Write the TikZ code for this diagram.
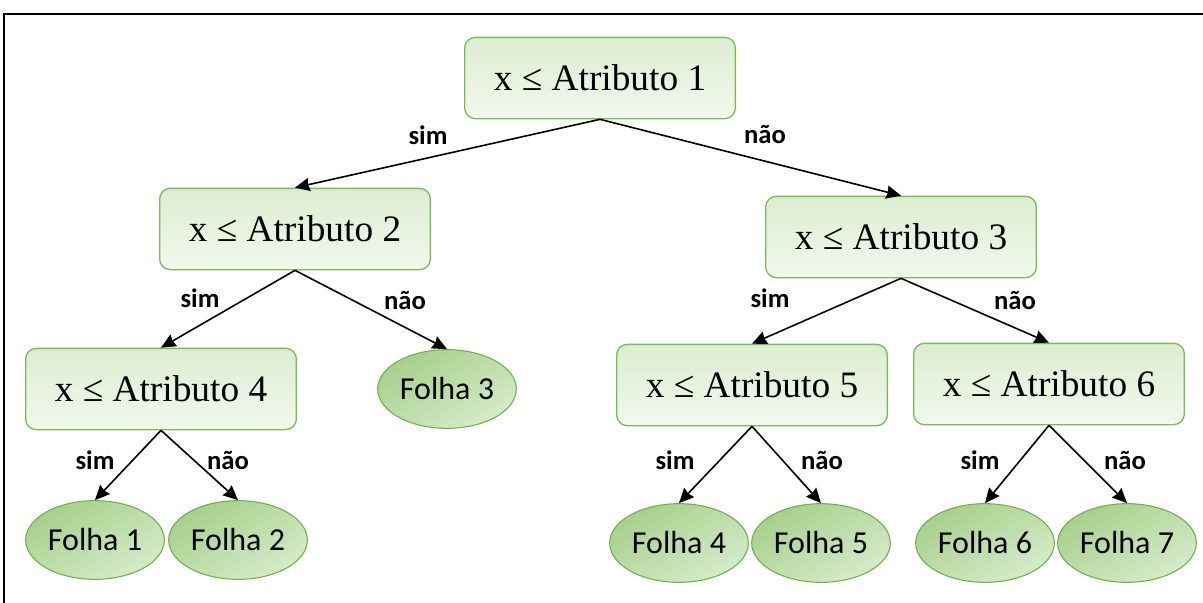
\documentclass[tikz,border=0pt]{standalone}
\usepackage{fontspec}
\setmainfont{Liberation Serif}
\newfontfamily\folhafont{Carlito}
\usetikzlibrary{arrows.meta,shapes.geometric}

\definecolor{boxline}{HTML}{7CBC58}
\definecolor{boxtop}{HTML}{DCEDD0}
\definecolor{boxbot}{HTML}{F2F8EE}
\definecolor{leafline}{HTML}{6FB04C}
\definecolor{leafdark}{HTML}{A6D08A}
\definecolor{leaflight}{HTML}{D6EBCA}

\begin{document}
\begin{tikzpicture}[x=0.75pt,y=-0.75pt,
    every node/.append style={align=center},
    teste/.style={draw=boxline, line width=1pt, rounded corners=8pt,
      top color=boxtop, bottom color=boxbot,
      minimum width=203pt, minimum height=61pt,
      font=\fontsize{28}{31}\selectfont},
    folha/.style={ellipse, draw=leafline, line width=0.8pt,
      top color=leafdark, bottom color=leaflight, shading angle=30,
      minimum width=104pt, minimum height=59pt, inner sep=0pt,
      font=\folhafont\fontsize{24}{26}\selectfont},
    lbl/.style={font=\folhafont\bfseries\fontsize{20}{22}\selectfont, inner sep=1pt},
    ramo/.style={line width=1.2pt, -{Stealth[length=11pt,width=10pt,inset=1pt]}}]
    \useasboundingbox (0,0) rectangle (1203,603);
    \draw[line width=1.5pt] (3.5,603) -- (3.5,14) -- (1203,14);

    % nos de decisao
    \node[teste] (a1) at ( 600,78)  {x ≤ Atributo 1};
    \node[teste] (a2) at ( 295,229) {x ≤ Atributo 2};
    \node[teste] (a3) at ( 901,237) {x ≤ Atributo 3};
    \node[teste] (a4) at ( 161,389) {x ≤ Atributo 4};
    \node[teste] (a5) at ( 752,385) {x ≤ Atributo 5};
    \node[teste] (a6) at (1049,384) {x ≤ Atributo 6};

    % folhas
    \node[folha] (f1) at (  95,540) {Folha 1};
    \node[folha] (f2) at ( 238,540) {Folha 2};
    \node[folha] (f3) at ( 447,389) {Folha 3};
    \node[folha] (f4) at ( 679,543) {Folha 4};
    \node[folha] (f5) at ( 821,543) {Folha 5};
    \node[folha] (f6) at ( 985,543) {Folha 6};
    \node[folha] (f7) at (1127,543) {Folha 7};

    \draw[ramo] (a1.south) -- (a2.north);
    \draw[ramo] (a1.south) -- (a3.north);
    \draw[ramo] (a2.south) -- (a4.north);
    \draw[ramo] (a2.south) -- (f3.north);
    \draw[ramo] (a3.south) -- (a5.north);
    \draw[ramo] (a3.south) -- (a6.north);
    \draw[ramo] (a4.south) -- (f1.north);
    \draw[ramo] (a4.south) -- (f2.north);
    \draw[ramo] (a5.south) -- (f4.north);
    \draw[ramo] (a5.south) -- (f5.north);
    \draw[ramo] (a6.south) -- (f6.north);
    \draw[ramo] (a6.south) -- (f7.north);

    \node[lbl] (s1) at ( 428,135) {sim};
    \node[lbl] (n1) at ( 765,135) {não};
    \node[lbl] (s2) at ( 200,298) {sim};
    \node[lbl] (n2) at ( 405,300) {não};
    \node[lbl] (s3) at ( 770,298) {sim};
    \node[lbl] (n3) at (1015,300) {não};
    \node[lbl] (s4) at (  95,460) {sim};
    \node[lbl] (n4) at ( 228,460) {não};
    \node[lbl] (s5) at ( 675,460) {sim};
    \node[lbl] (n5) at ( 822,460) {não};
    \node[lbl] (s6) at ( 980,460) {sim};
    \node[lbl] (n6) at (1125,460) {não};
  \end{tikzpicture}
\end{document}
